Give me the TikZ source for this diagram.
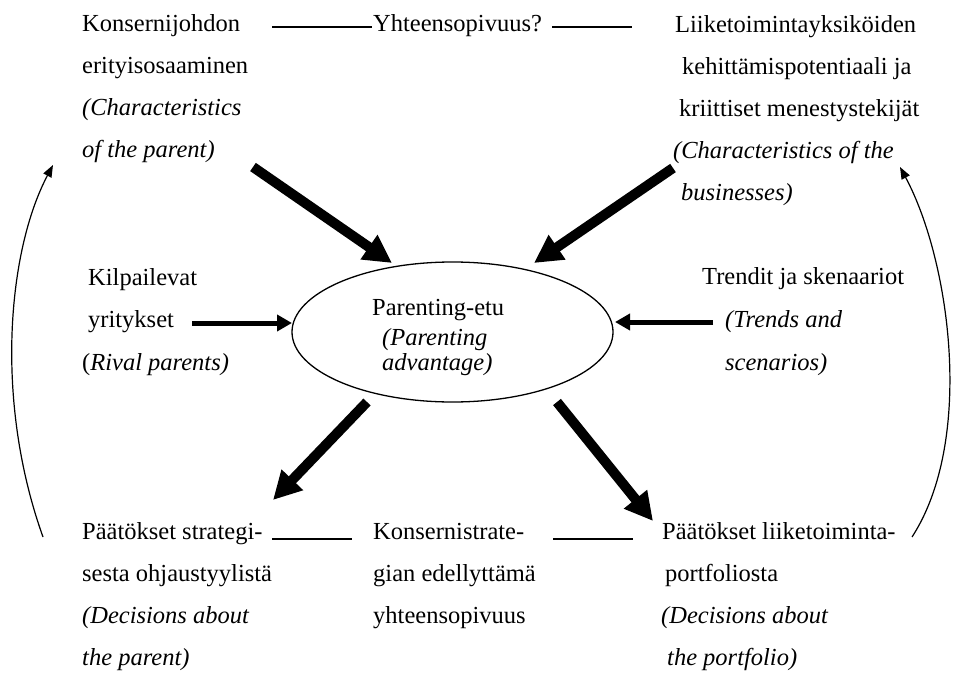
\documentclass[tikz,border=0pt]{standalone}
\usepackage{fontspec}
\setmainfont{Liberation Serif}
\usetikzlibrary{arrows.meta,shapes.geometric}
% invisible prop fixing the height of a first line above its baseline
\newcommand{\firstline}{\rule{0pt}{20pt}}
\begin{document}
\begin{tikzpicture}[x=1pt,y=-1pt,
  txt/.style={inner sep=0pt, anchor=north west, align=left,
    font=\fontsize{24.5}{42}\selectfont},
  bigarrow/.style={line width=10pt, -{Triangle[length=28pt,width=28pt]}},
  sidearrow/.style={line width=5pt, -{Triangle[length=15pt,width=16pt]}},
  looparrow/.style={line width=1.2pt, -{Triangle[length=12pt,width=9pt]}},
  link/.style={line width=1.2pt}]
  \useasboundingbox (0,0) rectangle (955,674);

  % top row texts (node top = first baseline - 20)
  \node[txt] (parent) at (82,11) {\firstline Konsernijohdon\\ erityisosaaminen\\
    \textit{(Characteristics}\\ \textit{of the parent)}};
  \node[txt] (fit) at (373,11) {\firstline Yhteensopivuus?};
  \node[txt] (business) at (673,12) {\firstline\hspace*{2pt}Liiketoimintayksiköiden\\
    \hspace*{9pt}kehittämispotentiaali ja\\
    \hspace*{6pt}kriittiset menestystekijät\\
    \textit{(Characteristics of the}\\
    \hspace*{8pt}\textit{businesses)}};

  % middle row texts
  \node[txt, font=\fontsize{24.5}{42.5}\selectfont] (rivals) at (82,265)
    {\firstline\hspace*{6pt}Kilpailevat\\ \hspace*{6pt}yritykset\\ (\textit{Rival parents)}};
  \node[txt, font=\fontsize{24.5}{43}\selectfont] (trends) at (702,264)
    {\firstline Trendit ja skenaariot\\ \hspace*{23pt}\textit{(Trends and}\\
     \hspace*{23pt}\textit{scenarios)}};

  % central ellipse
  \node[draw, ellipse, line width=1.3pt, minimum width=321pt,
    minimum height=140pt, inner sep=0pt] (adv) at (452.5,332) {};
  \node[txt, font=\fontsize{24.5}{25}\selectfont] (advtext) at (372,295)
    {\firstline Parenting-etu\\[5pt] \hspace*{10pt}\textit{(Parenting}\\
     \hspace*{10pt}\textit{advantage)}};

  % bottom row texts
  \node[txt] (decparent) at (82,519) {\firstline Päätökset strategi-\\
    sesta ohjaustyylistä\\ \textit{(Decisions about}\\ \textit{the parent)}};
  \node[txt] (strategy) at (373,519) {\firstline Konsernistrate-\\ gian edellyttämä\\
    yhteensopivuus};
  \node[txt] (decport) at (661,519) {\firstline\hspace*{1pt}Päätökset liiketoiminta-\\
    \hspace*{4pt}portfoliosta\\ \textit{(Decisions about}\\
    \hspace*{6pt}\textit{the portfolio)}};

  % connector end points
  \coordinate (a1s) at (253,167); \coordinate (a1e) at (392,263);
  \coordinate (a2s) at (673,168); \coordinate (a2e) at (534,263);
  \coordinate (a3s) at (367,402); \coordinate (a3e) at (273,500);
  \coordinate (a4s) at (557,402); \coordinate (a4e) at (653,521);
  \coordinate (h1s) at (192,323); \coordinate (h1e) at (292,323);
  \coordinate (h2s) at (713,322); \coordinate (h2e) at (615,322);
  \coordinate (l1s) at (272,27);  \coordinate (l1e) at (372,27);
  \coordinate (l2s) at (552,27);  \coordinate (l2e) at (632,27);
  \coordinate (l3s) at (272,539); \coordinate (l3e) at (352,539);
  \coordinate (l4s) at (553,539); \coordinate (l4e) at (633,539);
  \coordinate (c1s) at (43,537);  \coordinate (c1e) at (53,165);
  \coordinate (c2s) at (912,537); \coordinate (c2e) at (900,167);

  % thick arrows to and from the ellipse
  \draw[bigarrow] (a1s) -- (a1e);
  \draw[bigarrow] (a2s) -- (a2e);
  \draw[bigarrow] (a3s) -- (a3e);
  \draw[bigarrow] (a4s) -- (a4e);
  \draw[sidearrow] (h1s) -- (h1e);
  \draw[sidearrow] (h2s) -- (h2e);

  % plain links between the texts
  \draw[link] (l1s) -- (l1e);
  \draw[link] (l2s) -- (l2e);
  \draw[link] (l3s) -- (l3e);
  \draw[link] (l4s) -- (l4e);

  % feedback loops
  \draw[looparrow] (c1s) .. controls (-6,400) and (8,250) .. (c1e);
  \draw[looparrow] (c2s) .. controls (975,440) and (950,260) .. (c2e);
\end{tikzpicture}
\end{document}
